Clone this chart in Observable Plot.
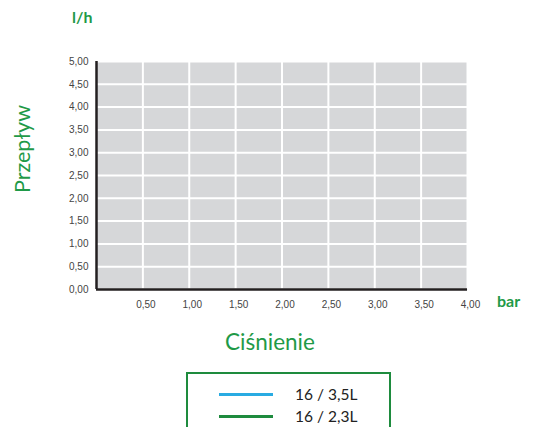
<!DOCTYPE html>
<html>
<head>
<meta charset="utf-8">
<script src="https://cdn.jsdelivr.net/npm/d3@7"></script>
<script src="https://cdn.jsdelivr.net/npm/@observablehq/plot@0.6"></script>
<style>
  body { margin: 0; background: #fff; }
  #wrap { position: relative; width: 541px; height: 427px; overflow: hidden; font-family: Lato, "Open Sans", sans-serif; }
  .lbl { position: absolute; color: #1f9a48; white-space: nowrap; }
  #legend { position: absolute; left: 186px; top: 372px; width: 205px; height: 70px; border: 2px solid #1e8b3e; box-sizing: border-box; }
  .row { position: absolute; left: 0; height: 20px; display: flex; align-items: center; font-size: 15.5px; color: #222; }
  .swatch { width: 54px; height: 3px; margin-left: 31px; margin-right: 22px; }
</style>
</head>
<body>
<div id="wrap"></div>
<script>
// Data
const xTicks = [0.5, 1.0, 1.5, 2.0, 2.5, 3.0, 3.5, 4.0];
const yTicks = [0, 0.5, 1.0, 1.5, 2.0, 2.5, 3.0, 3.5, 4.0, 4.5, 5.0];
const seriesNames = ["16 / 3,5L", "16 / 2,3L"];
const seriesColors = ["#29abe2", "#1e8b3e"];
// No flow curves are drawn in the reference chart (empty series)
const series1Pressure = [];
const series1Flow = [];
const series2Pressure = [];
const series2Flow = [];

const xLabel = "Ciśnienie";
const yLabel = "Przepływ";
const xUnit = "bar";
const yUnit = "l/h";

const fmt = d => d3.format(".2f")(d).replace(".", ",");

const lineData = [
  ...series1Pressure.map((p, i) => ({p, f: series1Flow[i], s: seriesNames[0]})),
  ...series2Pressure.map((p, i) => ({p, f: series2Flow[i], s: seriesNames[1]}))
];

const chart = Plot.plot({
  width: 541,
  height: 320,
  marginLeft: 96,
  marginRight: 74,
  marginTop: 61,
  marginBottom: 31,
  style: { fontFamily: "'Liberation Sans', Arial, sans-serif", fontSize: "10px", color: "#444", background: "transparent" },
  x: { domain: [0, 4], label: null },
  y: { domain: [0, 5], label: null },
  color: { domain: seriesNames, range: seriesColors },
  marks: [
    Plot.frame({ fill: "#d6d7d9", stroke: "none" }),
    Plot.gridX(xTicks, { stroke: "white", strokeOpacity: 1, strokeWidth: 2 }),
    Plot.gridY(yTicks, { stroke: "white", strokeOpacity: 1, strokeWidth: 2 }),
    Plot.line(lineData, { x: "p", y: "f", stroke: "s", strokeWidth: 2 }),
    Plot.ruleX([0], { stroke: "#231f20", strokeWidth: 2.5 }),
    Plot.ruleY([0], { stroke: "#231f20", strokeWidth: 2.5 }),
    Plot.axisY(yTicks, { tickSize: 0, tickPadding: 8, tickFormat: fmt, fill: "#444", label: null }),
    Plot.axisX(xTicks, { tickSize: 0, tickPadding: 11, tickFormat: fmt, fill: "#444", dx: 3, label: null })
  ]
});

const wrap = document.getElementById("wrap");
wrap.appendChild(chart);
chart.style.position = "absolute";
chart.style.left = "0px";
chart.style.top = "0px";

function addLabel(text, css) {
  const d = document.createElement("div");
  d.className = "lbl";
  d.textContent = text;
  Object.assign(d.style, css);
  wrap.appendChild(d);
  return d;
}
addLabel(yUnit, { left: "72px", top: "7px", fontSize: "16px", fontWeight: "bold" });
addLabel(xUnit, { left: "497px", top: "291px", fontSize: "16px", fontWeight: "bold" });
addLabel(xLabel, { left: "225px", top: "328px", fontSize: "22.5px" });
addLabel(yLabel, { left: "-28px", top: "136px", fontSize: "21.5px", transform: "rotate(-90deg)", transformOrigin: "50% 50%", width: "100px", textAlign: "center" });

const legend = document.createElement("div");
legend.id = "legend";
seriesNames.forEach((name, i) => {
  const row = document.createElement("div");
  row.className = "row";
  row.style.top = (10 + i * 22) + "px";
  const sw = document.createElement("div");
  sw.className = "swatch";
  sw.style.background = seriesColors[i];
  const t = document.createElement("span");
  t.textContent = name;
  row.appendChild(sw);
  row.appendChild(t);
  legend.appendChild(row);
});
wrap.appendChild(legend);
</script>
</body>
</html>
